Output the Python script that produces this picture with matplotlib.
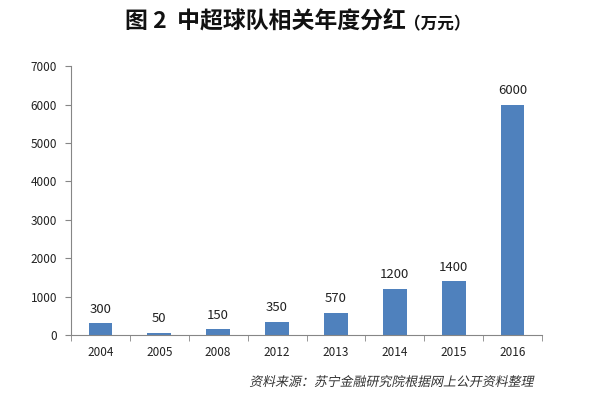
import matplotlib.pyplot as plt
import numpy as np
from matplotlib.textpath import TextPath
from matplotlib.patches import PathPatch
from matplotlib.font_manager import FontProperties
from matplotlib.transforms import Affine2D

plt.rcParams['font.family'] = ['Noto Sans CJK SC', 'DejaVu Sans']

years = ['2004', '2005', '2008', '2012', '2013', '2014', '2015', '2016']
bonus = [300, 50, 150, 350, 570, 1200, 1400, 6000]

fig = plt.figure(figsize=(6.01, 4.01), dpi=100)
ax = fig.add_axes([0.118, 0.1646, 0.784, 0.6704])

x = np.arange(len(years))
ax.bar(x, bonus, width=0.4, color='#4f81bd')
for xi, v in zip(x, bonus):
    ax.text(xi, v + 200, str(v), ha='center', va='bottom', fontsize=9.5, color='#222222')

ax.set_xlim(-0.5, len(years) - 0.5)
ax.set_ylim(0, 7000)
ax.set_yticks(range(0, 7001, 1000))
ax.set_xticks(x)
ax.set_xticklabels(years)
ax.set_xticks(np.arange(-0.5, len(years)), minor=True)
ax.tick_params(axis='x', which='major', length=0, pad=8, labelsize=8.5, labelcolor='#222222')
ax.tick_params(axis='x', which='minor', length=4, color='#868686')
ax.tick_params(axis='y', length=4, color='#868686', labelsize=8.5, labelcolor='#222222', pad=6)

for s in ['top', 'right']:
    ax.spines[s].set_visible(False)
for s in ['left', 'bottom']:
    ax.spines[s].set_color('#868686')

fig.text(0.676, 0.945, '图 2  中超球队相关年度分红', ha='right', va='center',
         fontsize=16.5, fontweight='bold', color='#111111')
fig.text(0.672, 0.94, '（万元）', ha='left', va='center',
         fontsize=12, fontweight='bold', color='#111111')

# italic source note: skew the glyph outlines since the CJK font has no italic
src = '资料来源：苏宁金融研究院根据网上公开资料整理'
fp = FontProperties(family='Noto Sans CJK SC', size=9.3)
tp = TextPath((0, 0), src, prop=fp)
bb = tp.get_extents()
scale = 100 / 72
tr = Affine2D().scale(scale).skew_deg(12, 0).translate(533 - bb.x1 * scale, 401 - 386)
fig.patches.append(PathPatch(tp, transform=tr, facecolor='#333333', edgecolor='none',
                             figure=fig))

fig.savefig('out.png', dpi=100)
